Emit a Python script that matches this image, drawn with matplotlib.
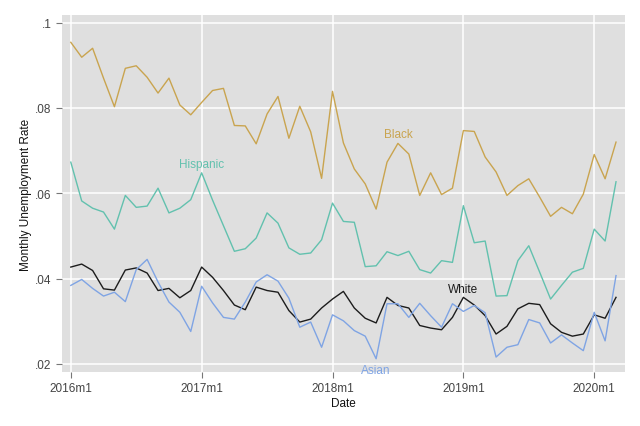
import numpy as np
import matplotlib
matplotlib.use("Agg")
import matplotlib.pyplot as plt

plt.rcParams['font.family'] = ['Liberation Sans', 'DejaVu Sans']

# Monthly unemployment rates, 2016m1 .. 2020m3
black = [0.0954, 0.0919, 0.0940, 0.0870, 0.0803, 0.0893, 0.0899, 0.0872, 0.0835, 0.0870,
         0.0807, 0.0784, 0.0813, 0.0841, 0.0846, 0.0759, 0.0758, 0.0716, 0.0786, 0.0827,
         0.0729, 0.0804, 0.0744, 0.0635, 0.0839, 0.0718, 0.0657, 0.0622, 0.0563, 0.0673,
         0.0717, 0.0692, 0.0595, 0.0648, 0.0597, 0.0612, 0.0747, 0.0745, 0.0685, 0.0650,
         0.0595, 0.0618, 0.0634, 0.0591, 0.0546, 0.0567, 0.0552, 0.0598, 0.0691, 0.0634,
         0.0720]
hispanic = [0.0673, 0.0582, 0.0565, 0.0556, 0.0516, 0.0595, 0.0567, 0.0570, 0.0612, 0.0554,
            0.0565, 0.0585, 0.0648, 0.0584, 0.0524, 0.0464, 0.0470, 0.0495, 0.0554, 0.0530,
            0.0472, 0.0457, 0.0460, 0.0491, 0.0577, 0.0534, 0.0532, 0.0428, 0.0430, 0.0463,
            0.0454, 0.0464, 0.0421, 0.0413, 0.0442, 0.0438, 0.0571, 0.0484, 0.0488, 0.0359,
            0.0360, 0.0442, 0.0477, 0.0415, 0.0352, 0.0384, 0.0415, 0.0424, 0.0516, 0.0488,
            0.0627]
white = [0.0427, 0.0434, 0.0419, 0.0376, 0.0373, 0.0420, 0.0425, 0.0413, 0.0372, 0.0377,
         0.0355, 0.0372, 0.0427, 0.0403, 0.0372, 0.0338, 0.0327, 0.0380, 0.0372, 0.0368,
         0.0325, 0.0298, 0.0305, 0.0331, 0.0352, 0.0370, 0.0331, 0.0307, 0.0296, 0.0356,
         0.0337, 0.0331, 0.0290, 0.0284, 0.0280, 0.0309, 0.0356, 0.0338, 0.0313, 0.0270,
         0.0288, 0.0329, 0.0342, 0.0339, 0.0294, 0.0274, 0.0265, 0.0270, 0.0315, 0.0307,
         0.0356]
asian = [0.0384, 0.0398, 0.0377, 0.0359, 0.0368, 0.0346, 0.0421, 0.0445, 0.0392, 0.0345,
         0.0321, 0.0276, 0.0382, 0.0343, 0.0309, 0.0305, 0.0345, 0.0392, 0.0409, 0.0394,
         0.0354, 0.0286, 0.0298, 0.0239, 0.0315, 0.0301, 0.0278, 0.0265, 0.0212, 0.0341,
         0.0341, 0.0309, 0.0342, 0.0313, 0.0286, 0.0341, 0.0323, 0.0337, 0.0320, 0.0216,
         0.0239, 0.0245, 0.0304, 0.0296, 0.0249, 0.0268, 0.0249, 0.0231, 0.0321, 0.0254,
         0.0407]

month = np.arange(len(black))  # 0 = 2016m1
xtick_pos = [0, 12, 24, 36, 48]
xtick_labels = ["2016m1", "2017m1", "2018m1", "2019m1", "2020m1"]
ytick_pos = [0.02, 0.04, 0.06, 0.08, 0.10]
ytick_labels = [".02", ".04", ".06", ".08", ".1"]

c_black = "#c9a44f"
c_hisp = "#62c1ae"
c_white = "#1c1c1c"
c_asian = "#7fa4e4"

fig = plt.figure(figsize=(6.4, 4.27), dpi=100)
ax = fig.add_axes([0.097, 0.1265, 0.880, 0.836])
ax.set_facecolor("#dfdfdf")

ax.plot(month, black, color=c_black, lw=1.0)
ax.plot(month, hispanic, color=c_hisp, lw=1.0)
ax.plot(month, white, color=c_white, lw=1.0)
ax.plot(month, asian, color=c_asian, lw=1.0)

# series labels placed inside the plot
ax.text(30, 0.0739, "Black", color=c_black, fontsize=8.5, ha="center", va="center")
ax.text(12, 0.0669, "Hispanic", color=c_hisp, fontsize=8.5, ha="center", va="center")
ax.text(36, 0.0376, "White", color=c_white, fontsize=8.5, ha="center", va="center")
ax.text(28, 0.0186, "Asian", color=c_asian, fontsize=8.5, ha="center", va="center")

ax.set_xlim(-0.8, 50.85)
ax.set_ylim(0.0181, 0.1018)
ax.set_xticks(xtick_pos)
ax.set_xticklabels(xtick_labels)
ax.set_yticks(ytick_pos)
ax.set_yticklabels(ytick_labels)
ax.grid(True, color="white", lw=1.1)
ax.set_axisbelow(True)
for s in ax.spines.values():
    s.set_visible(False)
ax.tick_params(axis="both", colors="#777777", labelcolor="#444444", labelsize=8.5,
               length=4, width=0.8)

ax.set_xlabel("Date", fontsize=8.5, color="#111111", labelpad=2)
ax.set_ylabel("Monthly Unemployment Rate", fontsize=8.5, color="#111111", labelpad=2)

fig.savefig("out.png", dpi=100, facecolor="white")
